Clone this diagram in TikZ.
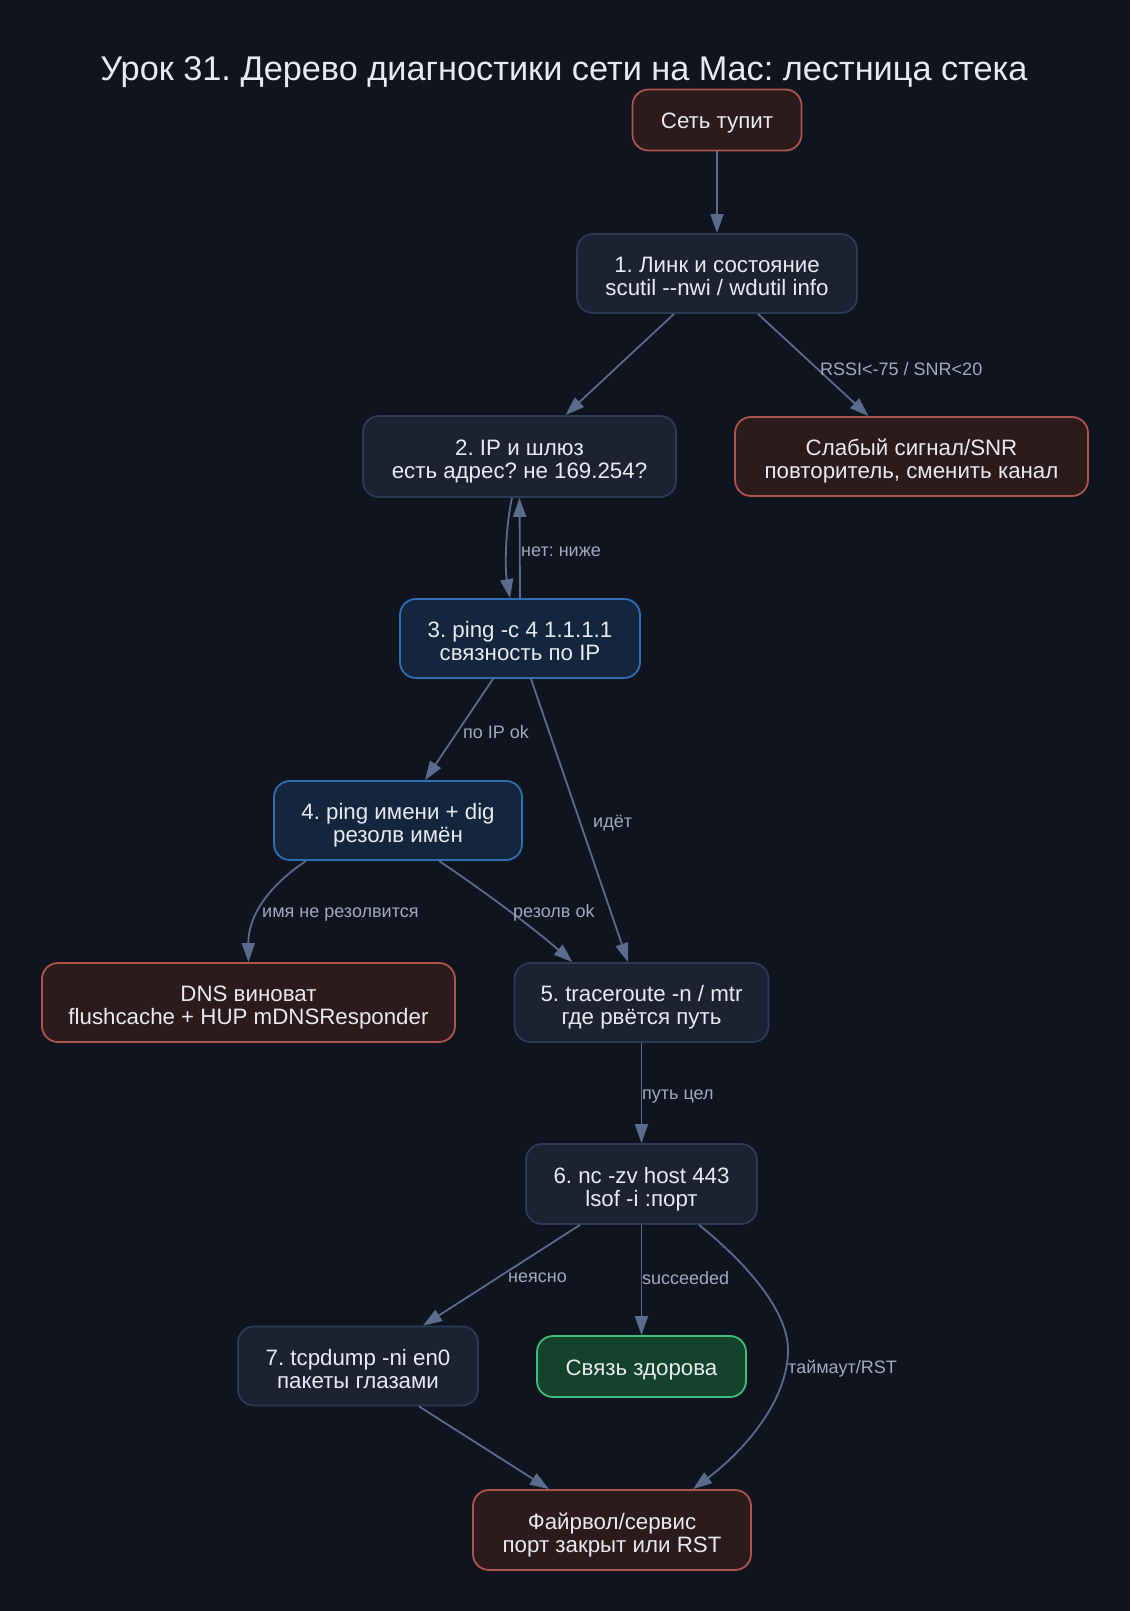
\documentclass[tikz,border=0pt]{standalone}
\usepackage{fontspec}
\setmainfont{Liberation Sans}
\usetikzlibrary{arrows.meta}
\frenchspacing
\newcommand\strutTwo{\rule{0pt}{27pt}}
\newcommand\strutOne{\rule{0pt}{23pt}}
\newcommand\strutDn{\rule[-6pt]{0pt}{6pt}}
\definecolor{bg}{HTML}{10141F}
\definecolor{deffill}{HTML}{1D2233}
\definecolor{defdraw}{HTML}{2D3A55}
\definecolor{redfill}{HTML}{2B1B1D}
\definecolor{reddraw}{HTML}{AE544F}
\definecolor{bluefill}{HTML}{14263D}
\definecolor{bluedraw}{HTML}{2F6EB5}
\definecolor{greenfill}{HTML}{14432D}
\definecolor{greendraw}{HTML}{3FBD7B}
\definecolor{edgec}{HTML}{5B6B8C}
\definecolor{txt}{HTML}{E8EAF0}
\definecolor{lbl}{HTML}{A0AAC0}
\tikzset{
  box/.style={rounded corners=16pt, line width=1.8pt, inner sep=0pt, minimum height=79pt,
    align=center, text=txt, font=\fontsize{22.3}{23}\selectfont},
  defbox/.style={box, fill=deffill, draw=defdraw},
  redbox/.style={box, fill=redfill, draw=reddraw},
  bluebox/.style={box, fill=bluefill, draw=bluedraw},
  greenbox/.style={box, fill=greenfill, draw=greendraw},
  conn/.style={draw=edgec, line width=1.8pt, -{Triangle[length=19pt,width=13pt]}},
  elabel/.style={anchor=west, inner sep=0pt, text=lbl, font=\fontsize{18}{19}\selectfont},
}
\begin{document}
\begin{tikzpicture}[x=1pt,y=-1pt]
\useasboundingbox (0,0) rectangle (1130,1611);
\fill[bg] (0,0) rectangle (1130,1611);
\node[anchor=base, inner sep=0pt, text=txt, font=\fontsize{34.3}{36}\selectfont] (title) at (564,80.7) {Урок 31. Дерево диагностики сети на Mac: лестница стека};

\node[redbox, minimum width=169pt, minimum height=61pt] (start) at (717,120) {\strutOne Сеть тупит\strutDn};
\node[defbox, minimum width=280pt] (n1) at (717,273.5) {\strutTwo 1. Линк и состояние\\scutil -{}-nwi / wdutil info\strutDn};
\node[defbox, minimum width=313pt, minimum height=81pt] (n2) at (519.5,456.5) {\strutTwo 2. IP и шлюз\\есть адрес? не 169.254?\strutDn};
\node[redbox, minimum width=353pt] (weak) at (911.5,456.5) {\strutTwo Слабый сигнал/SNR\\повторитель, сменить канал\strutDn};
\node[bluebox, minimum width=240pt] (n3) at (520,638.5) {\strutTwo 3. ping -c 4 1.1.1.1\\связность по IP\strutDn};
\node[bluebox, minimum width=248pt] (n4) at (398,820.5) {\strutTwo 4. ping имени + dig\\резолв имён\strutDn};
\node[redbox, minimum width=413pt] (dns) at (248.5,1002.5) {\strutTwo DNS виноват\\flushcache + HUP mDNSResponder\strutDn};
\node[defbox, minimum width=254pt] (n5) at (641.5,1002.5) {\strutTwo 5. traceroute -n / mtr\\где рвётся путь\strutDn};
\node[defbox, minimum width=231pt, minimum height=80pt] (n6) at (641.5,1184) {\strutTwo 6. nc -zv host 443\\lsof -i :порт\strutDn};
\node[greenbox, minimum width=209pt, minimum height=61pt] (ok) at (641.5,1366.5) {\strutOne Связь здорова\strutDn};
\node[defbox, minimum width=240pt, minimum height=79pt] (n7) at (358,1366) {\strutTwo 7. tcpdump -ni en0\\пакеты глазами\strutDn};
\node[redbox, minimum width=278pt, minimum height=80pt] (fw) at (612,1530) {\strutTwo Файрвол/сервис\\порт закрыт или RST\strutDn};

\draw[conn] (start.south) -- (n1.north);
\draw[conn] ([xshift=-43pt]n1.south) -- ([xshift=46pt]n2.north);
\draw[conn] ([xshift=41pt]n1.south) -- ([xshift=-43pt]weak.north);
\draw[conn] ([xshift=-7.5pt]n2.south) .. controls (505,530) and (505,570) .. ([xshift=-10pt]n3.north);
\draw[conn] (n3.north) -- (n2.south);
\draw[conn] ([xshift=-27pt]n3.south) -- ([xshift=27pt]n4.north);
\draw[conn] ([xshift=11pt]n3.south) -- ([xshift=-13.5pt]n5.north);
\draw[conn] ([xshift=-92pt]n4.south) .. controls (270,885) and (248,915) .. (dns.north);
\draw[conn] ([xshift=41pt]n4.south) .. controls (475,885) and (530,925) .. ([xshift=-69pt]n5.north);
\draw[conn] (n5.south) -- (n6.north);
\draw[conn] ([xshift=-61.5pt]n6.south) -- ([xshift=65pt]n7.north);
\draw[conn] (n6.south) -- (ok.north);
\draw[conn] ([xshift=57.5pt]n6.south) .. controls (745,1262) and (788,1310) .. (788,1350) .. controls (788,1400) and (745,1450) .. ([xshift=81pt]fw.north);
\draw[conn] ([xshift=61pt]n7.south) -- ([xshift=-63pt]fw.north);

\node[elabel] (l1) at (820,369) {RSSI<-75 / SNR<20};
\node[elabel] (l2) at (521,552) {нет: ниже};
\node[elabel] (l3) at (463,732) {по IP ok};
\node[elabel] (l4) at (593,823) {идёт};
\node[elabel] (l5) at (262,915) {имя не резолвится};
\node[elabel] (l6) at (513,913) {резолв ok};
\node[elabel] (l7) at (642,1097) {путь цел};
\node[elabel] (l8) at (508,1278) {неясно};
\node[elabel] (l9) at (642,1278) {succeeded};
\node[elabel] (l10) at (788,1369) {таймаут/RST};
\end{tikzpicture}
\end{document}
